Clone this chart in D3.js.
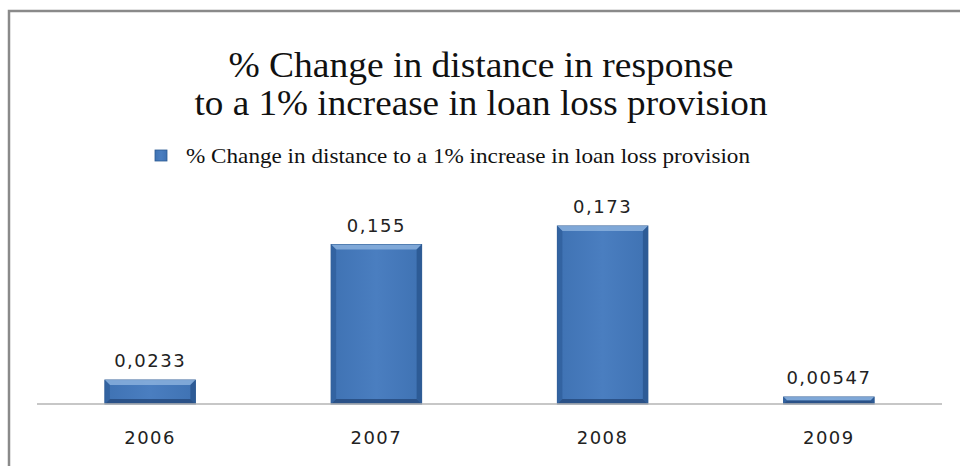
<!DOCTYPE html>
<html>
<head>
<meta charset="utf-8">
<script src="https://cdn.jsdelivr.net/npm/d3@7"></script>
<style>
  body { margin: 0; background: #fff; }
</style>
</head>
<body>
<div id="graph"></div>
<script>
// data
var years = ["2006", "2007", "2008", "2009"]
var values = [0.0233, 0.155, 0.173, 0.00547]
var valueLabels = ["0,0233", "0,155", "0,173", "0,00547"]
var titleLines = ["% Change in distance in response", "to a 1% increase in loan loss provision"]
var legendLabel = "% Change in distance to a 1% increase in loan loss provision"

var W = 960, H = 466
var margin = {left: 37, right: 18, top: 198, bottom: 62}

var svg = d3.select("#graph")
  .append("svg")
  .attr("width", W)
  .attr("height", H)

// gradient for the bevelled bars
var defs = svg.append("defs")
var g1 = defs.append("linearGradient").attr("id", "barFill")
  .attr("x1", 0).attr("x2", 1).attr("y1", 0).attr("y2", 0)
g1.append("stop").attr("offset", "0%").attr("stop-color", "#3f72b3")
g1.append("stop").attr("offset", "50%").attr("stop-color", "#4a7ec0")
g1.append("stop").attr("offset", "100%").attr("stop-color", "#3f72b3")

// frame (left + top border only)
svg.append("path")
  .attr("d", "M9,466 V11 H960")
  .attr("fill", "none")
  .attr("stroke", "#8a8a8a")
  .attr("stroke-width", 2.5)

// title, stretched a bit like the original
var titleWidths = [505, 573]
svg.append("g").selectAll("text")
  .data(titleLines)
  .enter()
  .append("text")
    .attr("x", 481)
    .attr("y", function(d, i){ return 77 + i * 38 })
    .attr("text-anchor", "middle")
    .attr("textLength", function(d, i){ return titleWidths[i] })
    .attr("lengthAdjust", "spacingAndGlyphs")
    .style("font-family", "'Liberation Serif', 'Times New Roman', serif")
    .style("font-size", "36px")
    .attr("fill", "#111")
    .text(function(d){ return d })

// legend
var leg = svg.append("g")
leg.append("rect")
  .attr("x", 155).attr("y", 150).attr("width", 12).attr("height", 11)
  .attr("fill", "url(#barFill)")
  .attr("stroke", "#2c5a92").attr("stroke-width", 0.8)
leg.append("text")
  .attr("x", 186).attr("y", 163)
  .attr("textLength", 564)
  .attr("lengthAdjust", "spacingAndGlyphs")
  .style("font-family", "'Liberation Serif', 'Times New Roman', serif")
  .style("font-size", "21px")
  .attr("fill", "#111")
  .text(legendLabel)

// scales
var x = d3.scaleBand()
  .domain(years)
  .range([margin.left, W - margin.right])
  .paddingInner(0.6)
  .paddingOuter(0.3)

var y = d3.scaleLinear()
  .domain([0, 0.2])
  .range([H - margin.bottom, H - margin.bottom - 0.2 * 1029])

var base = y(0)

// bars
var bars = svg.append("g").selectAll("g")
  .data(values)
  .enter()
  .append("g")

function barTop(d){ return Math.min(y(d), base - 7) }

bars.append("rect")
  .attr("x", function(d, i){ return x(years[i]) })
  .attr("y", barTop)
  .attr("width", x.bandwidth())
  .attr("height", function(d){ return base - barTop(d) })
  .attr("fill", "url(#barFill)")
  .attr("stroke", "#2d5b94")
  .attr("stroke-width", 1)

// bevel: light top edge, darker sides
var bv = 5
bars.append("path")
  .attr("d", function(d, i){
    var x0 = x(years[i]), x1 = x0 + x.bandwidth(), t = barTop(d)
    var b = Math.min(bv, (base - t) / 2)
    return "M" + x0 + "," + t + "L" + x1 + "," + t + "L" + (x1 - b) + "," + (t + b) + "L" + (x0 + b) + "," + (t + b) + "Z"
  })
  .attr("fill", "#8ab0dd")
  .attr("opacity", 0.85)
bars.append("path")
  .attr("d", function(d, i){
    var x0 = x(years[i]), t = barTop(d)
    var b = Math.min(bv, (base - t) / 2)
    return "M" + x0 + "," + t + "L" + (x0 + b) + "," + (t + b) + "L" + (x0 + b) + "," + (base - b) + "L" + x0 + "," + base + "Z"
  })
  .attr("fill", "#2f5f9c")
  .attr("opacity", 0.8)
bars.append("path")
  .attr("d", function(d, i){
    var x1 = x(years[i]) + x.bandwidth(), t = barTop(d)
    var b = Math.min(bv, (base - t) / 2)
    return "M" + x1 + "," + t + "L" + (x1 - b) + "," + (t + b) + "L" + (x1 - b) + "," + (base - b) + "L" + x1 + "," + base + "Z"
  })
  .attr("fill", "#2a5791")
  .attr("opacity", 0.85)
bars.append("path")
  .attr("d", function(d, i){
    var x0 = x(years[i]), x1 = x0 + x.bandwidth(), t = barTop(d)
    var b = Math.min(bv, (base - t) / 2)
    return "M" + x0 + "," + base + "L" + (x0 + b) + "," + (base - b) + "L" + (x1 - b) + "," + (base - b) + "L" + x1 + "," + base + "Z"
  })
  .attr("fill", "#24497c")
  .attr("opacity", 0.8)

// value labels
svg.append("g").selectAll("text")
  .data(values)
  .enter()
  .append("text")
    .attr("x", function(d, i){ return x(years[i]) + x.bandwidth() / 2 })
    .attr("y", function(d){ return barTop(d) - 13 })
    .attr("text-anchor", "middle")
    .style("font-family", "'DejaVu Sans', sans-serif")
    .style("font-size", "18px")
    .style("letter-spacing", "1.5px")
    .attr("fill", "#222")
    .text(function(d, i){ return valueLabels[i] })

// x axis
var xAxis = svg.append("g")
  .attr("transform", "translate(0," + base + ")")
  .call(d3.axisBottom(x).tickSize(0).tickPadding(27))
xAxis.select(".domain")
  .attr("d", "M" + margin.left + ",0H" + (W - margin.right))
  .attr("stroke", "#b5b5b5")
  .attr("stroke-width", 1.5)
xAxis.selectAll("text")
  .style("font-family", "'DejaVu Sans', sans-serif")
  .style("font-size", "18px")
  .style("letter-spacing", "1.5px")
  .attr("fill", "#222")
</script>
</body>
</html>
